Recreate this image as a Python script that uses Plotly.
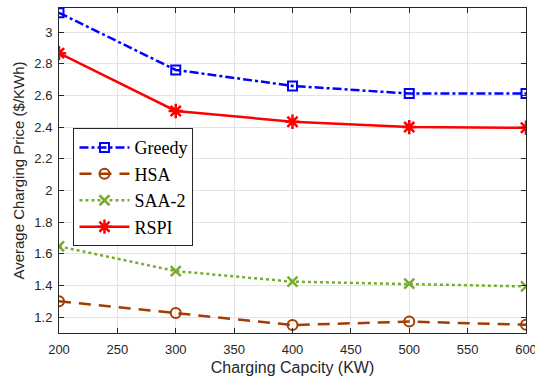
import plotly.graph_objects as go

capacity = [200, 300, 400, 500, 600]
greedy = [3.122, 2.761, 2.660, 2.612, 2.612]
hsa = [1.301, 1.226, 1.150, 1.172, 1.152]
saa2 = [1.647, 1.491, 1.424, 1.411, 1.394]
rspi = [2.867, 2.502, 2.434, 2.400, 2.396]

x_ticks = [200, 250, 300, 350, 400, 450, 500, 550, 600]
y_ticks = [1.2, 1.4, 1.6, 1.8, 2.0, 2.2, 2.4, 2.6, 2.8, 3.0]
y_labels = ["1.2", "1.4", "1.6", "1.8", "2", "2.2", "2.4", "2.6", "2.8", "3"]

fig = go.Figure()
fig.add_trace(go.Scatter(x=capacity, y=greedy, name="Greedy", mode="lines+markers",
                         line=dict(color="#0000ff", width=2.5, dash="dashdot"),
                         marker=dict(symbol="square-open", size=9, color="#0000ff", line=dict(width=2))))
fig.add_trace(go.Scatter(x=capacity, y=hsa, name="HSA", mode="lines+markers",
                         line=dict(color="#a33d00", width=2.5, dash="12px,8px"),
                         marker=dict(symbol="circle-open", size=10, color="#a33d00", line=dict(width=2))))
fig.add_trace(go.Scatter(x=capacity, y=saa2, name="SAA-2", mode="lines+markers",
                         line=dict(color="#77ac30", width=2.5, dash="dot"),
                         marker=dict(symbol="x-thin-open", size=10, color="#77ac30", line=dict(width=2.5))))
fig.add_trace(go.Scatter(x=capacity, y=rspi, name="RSPI", mode="lines+markers",
                         line=dict(color="#ff0000", width=2.5),
                         marker=dict(symbol="asterisk-open", size=12, color="#ff0000", line=dict(width=2.5))))

axis_common = dict(showline=True, linecolor="#262626", linewidth=1, mirror="ticks",
                   ticks="inside", ticklen=5, tickcolor="#262626",
                   showgrid=True, gridcolor="#e3e3e3", gridwidth=1, zeroline=False,
                   ticklabeloverflow="allow",
                   tickfont=dict(family="Liberation Sans, Arial", size=13, color="#262626"))

fig.update_xaxes(range=[200, 600], tickvals=x_ticks, ticklabelstandoff=4,
                 title=dict(text="Charging Capcity (KW)", font=dict(family="Liberation Sans, Arial", size=16, color="#262626"), standoff=6),
                 **axis_common)
fig.update_yaxes(range=[1.1, 3.152], tickvals=y_ticks, ticktext=y_labels, ticklabelstandoff=3,
                 title=dict(text="Average Charging Price ($/KWh)", font=dict(family="Liberation Sans, Arial", size=15, color="#262626"), standoff=6),
                 **axis_common)

fig.update_layout(
    width=535, height=384,
    margin=dict(l=59, r=9, t=8, b=51, autoexpand=False),
    plot_bgcolor="white", paper_bgcolor="white",
    legend=dict(x=0.031, y=0.63, xanchor="left", yanchor="top",
                bgcolor="white", bordercolor="#262626", borderwidth=1,
                itemwidth=50,
                font=dict(family="Liberation Serif, Times New Roman", size=18, color="black"),
                tracegroupgap=0),
    showlegend=True,
)

fig.write_html("out.html")
